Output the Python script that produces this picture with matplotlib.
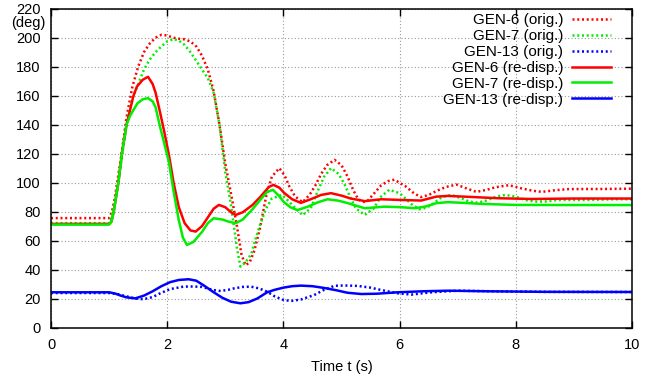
import matplotlib
matplotlib.use("Agg")
import matplotlib.pyplot as plt

plt.rcParams['font.family'] = ['Liberation Sans', 'DejaVu Sans']

# GEN-6 (orig.)
t6_orig = [0, 1.0, 1.05, 1.1, 1.2, 1.3, 1.4, 1.5, 1.6, 1.7, 1.8, 1.9, 2.0, 2.1, 2.2, 2.3,
           2.4, 2.5, 2.6, 2.7, 2.8, 2.9, 3.0, 3.1, 3.2, 3.28, 3.35, 3.42, 3.5, 3.6, 3.7,
           3.8, 3.93, 4.02, 4.1, 4.2, 4.33, 4.45, 4.55, 4.65, 4.75, 4.88, 5.0, 5.1, 5.2,
           5.28, 5.36, 5.45, 5.55, 5.68, 5.8, 5.91, 6.1, 6.25, 6.37, 6.5, 6.65, 6.8, 6.98,
           7.15, 7.32, 7.5, 7.65, 7.88, 8.1, 8.3, 8.45, 8.65, 8.9, 9.5, 10.0]
g6_orig = [75.5, 75.5, 80, 90, 116, 145, 166, 180, 190, 196, 200, 202, 201.5, 200, 199.3, 198.8,
           197.4, 194, 187.5, 178, 163, 140, 113, 92, 70, 50, 43, 45, 53, 69, 90,
           104, 110, 105, 97.5, 90.5, 86.5, 91.5, 98, 106, 112, 115.7, 112, 104.5, 95,
           89, 86.5, 87.5, 92, 98, 101, 102, 97.5, 92.5, 90, 91.5, 94.5, 97, 98.6,
           96, 93.6, 95, 96.8, 98.2, 96, 94.3, 93.6, 94.6, 95.5, 95.6, 95.8]

# GEN-7 (orig.)
t7_orig = [0, 1.0, 1.05, 1.1, 1.2, 1.3, 1.4, 1.5, 1.6, 1.7, 1.8, 1.9, 2.0, 2.11, 2.2, 2.3,
           2.4, 2.5, 2.6, 2.7, 2.8, 2.9, 3.0, 3.1, 3.2, 3.26, 3.35, 3.45, 3.52, 3.6, 3.7,
           3.8, 3.98, 4.07, 4.18, 4.33, 4.47, 4.6, 4.7, 4.82, 4.95, 5.05, 5.15, 5.25, 5.4,
           5.55, 5.68, 5.82, 6.0, 6.2, 6.34, 6.45, 6.55, 6.72, 6.89, 7.06, 7.2, 7.32, 7.45,
           7.66, 7.82, 8.0, 8.16, 8.33, 8.5, 8.73, 9.2, 9.7, 10.0]
g7_orig = [72, 72, 78, 88, 112, 140, 158, 168, 178, 185, 190, 194, 197.5, 199, 198, 195,
           190, 184, 178, 172, 162, 140, 107, 84, 55, 42, 45, 51, 61, 71, 82,
           89, 91.5, 88, 83.4, 77.5, 82.3, 95, 104, 110, 106, 99, 90, 82, 77.7,
           82, 90.3, 95, 92.7, 85.3, 81.6, 82.5, 84.6, 89.9, 91.5, 89.2, 86.9, 86.2, 87,
           90.3, 91.5, 90.3, 88, 86.9, 86.9, 88, 88, 88.5, 88.5]

# GEN-13 (orig.)
t13_orig = [0, 1.0, 1.15, 1.3, 1.45, 1.59, 1.75, 1.88, 2.05, 2.28, 2.45, 2.6, 2.69, 2.8, 2.92,
            3.05, 3.15, 3.3, 3.44, 3.58, 3.72, 3.85, 4.0, 4.13, 4.3, 4.53, 4.7, 4.88, 5.05,
            5.28, 5.5, 5.68, 5.97, 6.2, 6.55, 7.0, 7.6, 8.5, 10.0]
g13_orig = [23.8, 23.8, 23, 21.5, 20, 19.5, 21, 23.6, 26.5, 28.2, 28.3, 28, 27, 25.8, 25.2,
            26, 27, 28, 28.2, 27, 24.7, 21.5, 19, 18.3, 19.3, 22.4, 26, 28.8, 29,
            28.7, 27.5, 25.9, 23.6, 22.7, 24.3, 25.4, 25, 24.6, 24.5]

# GEN-6 (re-disp.)
t6_re = [0, 1.0, 1.04, 1.08, 1.16, 1.22, 1.3, 1.42, 1.48, 1.58, 1.67, 1.75, 1.8, 1.88, 1.95,
         2.03, 2.11, 2.2, 2.3, 2.4, 2.49, 2.6, 2.7, 2.8, 2.89, 3.0, 3.1, 3.18, 3.3, 3.47,
         3.6, 3.75, 3.83, 3.93, 4.01, 4.15, 4.3, 4.47, 4.65, 4.82, 5.0, 5.16, 5.4, 5.68,
         6.03, 6.37, 6.63, 6.83, 7.12, 7.7, 8.27, 9.0, 10.0]
g6_re = [71.5, 71.5, 73, 80, 100, 120, 140, 160, 166.3, 171, 173, 168, 162, 148, 135,
         119, 100, 83, 72, 67, 66.2, 70, 76, 82, 84.6, 83, 79.5, 77.7, 79.5, 84.6,
         90, 97, 98.4, 96.5, 93, 88.5, 86, 88.5, 91.5, 92.7, 91, 89, 87.2, 88.5,
         88, 87.6, 90.3, 90.8, 90.3, 89.2, 88.7, 89, 89]

# GEN-7 (re-disp.)
t7_re = [0, 1.0, 1.04, 1.08, 1.16, 1.22, 1.3, 1.36, 1.42, 1.49, 1.58, 1.67, 1.75, 1.8, 1.88,
         1.95, 2.03, 2.11, 2.2, 2.27, 2.34, 2.45, 2.6, 2.7, 2.8, 2.95, 3.06, 3.18, 3.3,
         3.47, 3.6, 3.72, 3.82, 3.92, 4.01, 4.12, 4.24, 4.42, 4.6, 4.76, 4.95, 5.11, 5.4,
         5.74, 6.03, 6.26, 6.45, 6.63, 6.83, 7.1, 7.41, 7.98, 9.0, 10.0]
g7_re = [71, 71, 73, 80, 100, 120, 140, 146, 150.2, 154.8, 157.5, 158.3, 156, 152, 138,
         127, 114, 94, 74, 62, 57, 59, 66, 72, 75.4, 74.5, 73, 72, 74.5,
         81.7, 88, 93.5, 95, 91, 86.5, 83, 81, 83.4, 86.5, 88.5, 87.5, 85.8, 82.3,
         83.4, 83, 82.3, 83.5, 85.8, 86.5, 86, 85.3, 84.6, 84.5, 84.5]

# GEN-13 (re-disp.)
t13_re = [0, 1.0, 1.1, 1.2, 1.3, 1.45, 1.6, 1.75, 1.9, 2.05, 2.2, 2.37, 2.5, 2.65, 2.8, 2.95,
          3.1, 3.26, 3.4, 3.55, 3.72, 3.85, 4.0, 4.15, 4.3, 4.5, 4.7, 4.9, 5.1, 5.34, 5.6,
          5.97, 6.4, 6.83, 7.5, 8.5, 10.0]
g13_re = [24.3, 24.3, 23.5, 22, 20.8, 20.1, 22, 25, 28.5, 31.3, 32.8, 33.3, 32.3, 28.5, 24.3, 20.5,
          17.8, 16.7, 17.5, 20, 24.3, 26, 27.5, 28.5, 28.9, 28.5, 27.3, 25.8, 24, 23.1, 23.3,
          24.3, 25, 25.4, 25, 24.6, 24.5]

RED, GREEN, BLUE = '#ff0000', '#00ee00', '#0000ff'
dot = (0, (0.8, 1.1))

fig = plt.figure(figsize=(6.6, 3.83), dpi=100)
ax = fig.add_axes([51 / 660, 55.5 / 383, 581 / 660, 318.8 / 383])

ax.plot(t6_orig, g6_orig, color=RED, lw=1.8, ls=dot, label='GEN-6 (orig.)')
ax.plot(t7_orig, g7_orig, color=GREEN, lw=1.8, ls=dot, label='GEN-7 (orig.)')
ax.plot(t13_orig, g13_orig, color=BLUE, lw=1.8, ls=dot, label='GEN-13 (orig.)')
ax.plot(t6_re, g6_re, color=RED, lw=1.8, label='GEN-6 (re-disp.)')
ax.plot(t7_re, g7_re, color=GREEN, lw=1.8, label='GEN-7 (re-disp.)')
ax.plot(t13_re, g13_re, color=BLUE, lw=1.8, label='GEN-13 (re-disp.)')

ax.set_xlim(0, 10)
ax.set_ylim(0, 220)
ax.set_xticks(range(0, 11, 2))
ax.set_yticks(range(0, 221, 20))
ax.grid(True, color='#999999', ls=(0, (1, 2)), lw=0.8)
ax.tick_params(direction='in', top=True, right=True, length=5, width=1,
               labelsize=10.5, pad=7.5)
for s in ax.spines.values():
    s.set_linewidth(1.1)

ax.set_xlabel('Time t (s)', fontsize=10.5, labelpad=6)
fig.text(28 / 660, 1 - 23 / 383, '(deg)', ha='center', va='center', fontsize=10.5)

ax.legend(loc='upper right', bbox_to_anchor=(0.9633, 0.985), frameon=False,
          markerfirst=False, fontsize=11, handlelength=2.5, handletextpad=0.6,
          labelspacing=0.12, borderaxespad=0, borderpad=0)

fig.savefig('out.png', dpi=100)
